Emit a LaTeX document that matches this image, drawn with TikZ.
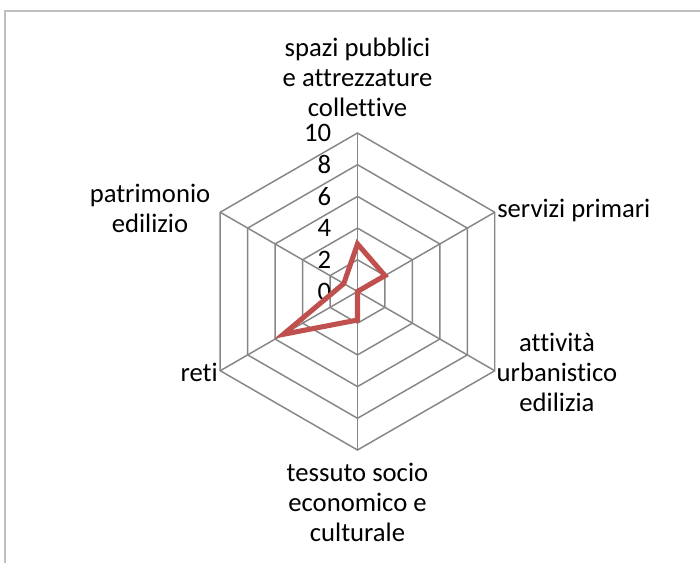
\documentclass[tikz,border=0pt]{standalone}
\usepackage{fontspec}
\setmainfont[Ligatures=NoCommon]{Carlito}
\usetikzlibrary{positioning}
\definecolor{gridgray}{HTML}{868686}
\definecolor{seriesred}{HTML}{C0504D}
\definecolor{framegray}{HTML}{BFBFBF}

\begin{document}
\begin{tikzpicture}[x=0.75pt, y=0.75pt,
        frame/.style={draw=framegray, line width=0.9pt},
        grid/.style={draw=gridgray, line width=1.1pt},
        series/.style={draw=seriesred, line width=3.8pt, line join=miter},
        axislabel/.style={font=\fontsize{20}{22.5}\selectfont, align=center, inner sep=0pt},
        ticklabel/.style={font=\fontsize{20}{22.5}\selectfont, anchor=east, inner sep=0pt},
    ]
\useasboundingbox (-357.5,-271.5) rectangle (342.5,291.5);
\def\unitr{15.85}

% chart area border
\draw[frame] (-352.5,-271.5) -- (-352.5,280.5) -- (342.5,280.5);

% hexagon rings and spokes
\foreach \v in {2,4,...,10}
    \draw[grid] (90:\v*\unitr) -- (30:\v*\unitr) -- (-30:\v*\unitr) -- (-90:\v*\unitr)
        -- (-150:\v*\unitr) -- (150:\v*\unitr) -- cycle;
\foreach \a in {90,30,-30,-90,-150,150}
    \draw[grid] (0,0) -- (\a:10*\unitr);

% scale
\foreach \v in {0,2,...,10}
    \node[ticklabel] (tick\v) at (-26,\v*\unitr) {\v};

% axis labels
\node[axislabel] (Spazi) at (0,214.5) {spazi pubblici\\e attrezzature\\collettive};
\node[axislabel, anchor=west] (Servizi) at (139.5,81.5) {servizi primari};
\node[axislabel] (Attivita) at (199.5,-80.5) {attività\\urbanistico\\edilizia};
\node[axislabel] (Tessuto) at (0,-210.5) {tessuto socio\\economico e\\culturale};
\node[axislabel, anchor=east] (Reti) at (-139.5,-80.5) {reti};
\node[axislabel] (Patrimonio) at (-207.5,83.5) {patrimonio\\edilizio};

% data series
\coordinate (vSpazi) at (90:3*\unitr);
\coordinate (vServizi) at (30:2*\unitr);
\coordinate (vAttivita) at (-30:0*\unitr);
\coordinate (vTessuto) at (-90:1.8*\unitr);
\coordinate (vReti) at (-150:5.4*\unitr);
\coordinate (vPatrimonio) at (150:1*\unitr);
\draw[series] (vSpazi) -- (vServizi) -- (vAttivita) -- (vTessuto) -- (vReti) -- (vPatrimonio) -- cycle;
\end{tikzpicture}
\end{document}
